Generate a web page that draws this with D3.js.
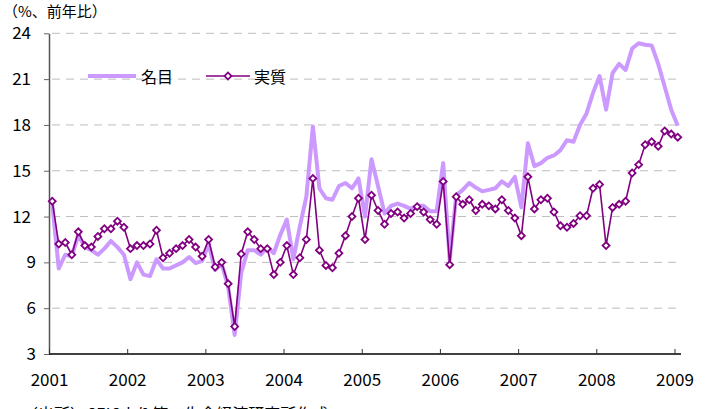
<!DOCTYPE html>
<html>
<head>
  <meta charset="UTF-8">
  <style>
    body { margin: 0; background: #fff; }
    text { font-family: "Noto Sans CJK JP", "Liberation Sans", sans-serif; }
  </style>
</head>
<body>
<div id="chart_div"></div>
<script src="https://d3js.org/d3.v7.min.js"></script>
<script>

let width = 713, height = 409;

// monthly, Jan 2001 .. Jan 2009
const years = [2001, 2002, 2003, 2004, 2005, 2006, 2007, 2008, 2009];
const yTicks = [3, 6, 9, 12, 15, 18, 21, 24];

const nominal = [
  12.8, 8.6, 9.5, 9.4, 10.8, 10.0, 9.8, 9.5, 9.9, 10.4, 10.0, 9.5,
  7.9, 9.0, 8.2, 8.1, 9.2, 8.6, 8.6, 8.8, 9.0, 9.35, 8.95, 9.1,
  10.2, 8.5, 8.9, 7.4, 4.25, 8.3, 9.8, 9.8, 9.5, 10.0, 9.6, 10.8,
  11.8, 9.2, 11.35, 13.3, 17.9, 13.85, 13.2, 13.1, 14.0, 14.2, 13.85, 14.5,
  12.0, 15.75, 14.0, 12.2, 12.7, 12.85, 12.7, 12.5, 12.7, 12.7, 12.35, 12.35,
  15.5, 9.15, 13.4, 13.75, 14.2, 13.9, 13.65, 13.75, 13.85, 14.3, 14.0, 14.6,
  12.6, 16.8, 15.3, 15.5, 15.85, 16.0, 16.35, 17.0, 16.9, 18.0, 18.75, 20.1,
  21.2, 19.0, 21.4, 22.0, 21.6, 23.0, 23.35, 23.25, 23.2, 22.0, 20.5, 19.0,
  17.95
];

const real = [
  13.0, 10.2, 10.3, 9.5, 11.0, 10.1, 10.0, 10.7, 11.2, 11.2, 11.7, 11.3,
  9.9, 10.1, 10.1, 10.2, 11.1, 9.3, 9.6, 9.9, 10.1, 10.5, 10.0, 9.4,
  10.5, 8.7, 9.0, 7.6, 4.8, 9.55, 11.0, 10.5, 9.9, 9.9, 8.2, 9.0,
  10.1, 8.2, 9.3, 10.5, 14.5, 9.8, 8.8, 8.65, 9.6, 10.75, 12.0, 13.2,
  10.5, 13.4, 12.4, 11.5, 12.2, 12.3, 11.9, 12.2, 12.65, 12.3, 11.8, 11.5,
  14.3, 8.85, 13.3, 12.8, 13.1, 12.4, 12.8, 12.7, 12.5, 13.1, 12.4, 11.9,
  10.75, 14.6, 12.5, 13.1, 13.2, 12.3, 11.4, 11.3, 11.55, 12.05, 12.05, 13.85,
  14.1, 10.1, 12.6, 12.8, 13.0, 14.85, 15.4, 16.7, 16.9, 16.6, 17.6, 17.4,
  17.2
];

const seriesNames = ["名目", "実質"];
const nominalColor = "#cc99ff", realColor = "#800080";

let svg = d3.select("#chart_div")
    .append("svg")
    .attr("width", width)
    .attr("height", height);

const plotLeft = 49, plotRight = 681, plotTop = 33.3, plotBottom = 354;

let x = d3.scaleBand()
    .domain(d3.range(nominal.length))
    .range([plotLeft, plotRight]);
let cx = i => x(i) + x.bandwidth() / 2;

let y = d3.scaleLinear().domain([3, 24]).range([plotBottom, plotTop]);

// gridlines
svg.append("g")
  .selectAll("line")
  .data(yTicks.filter(d => d > 3))
  .enter().append("line")
    .attr("x1", plotLeft + 3).attr("x2", plotRight)
    .attr("y1", d => y(d)).attr("y2", d => y(d))
    .attr("stroke", "#bdbdbd")
    .attr("stroke-width", 1)
    .attr("stroke-dasharray", "8,6");

// y axis
let yAxis = svg.append("g")
    .attr("transform", "translate(" + plotLeft + ",0)")
    .call(d3.axisLeft(y).tickValues(yTicks).tickSizeInner(5).tickSizeOuter(0).tickPadding(0));
yAxis.select(".domain").attr("stroke", "#555").attr("stroke-width", 1.5);
yAxis.selectAll(".tick line").attr("stroke", "#666");
yAxis.selectAll(".tick text")
    .attr("x", d => d < 10 ? -13 : -18)
    .style("font-size", "17px")
    .attr("fill", "#000");

// x axis (year boundaries)
let xYear = d3.scaleLinear().domain([2001, 2009]).range([x(0), x(96)]);
let xAxis = svg.append("g")
    .attr("transform", "translate(0," + plotBottom + ")")
    .call(d3.axisBottom(xYear).tickValues(years).tickFormat(d3.format("d"))
      .tickSizeInner(-5).tickSizeOuter(0).tickPadding(20));
xAxis.select(".domain").attr("d", "M" + plotLeft + ",0H" + plotRight).attr("stroke", "#000").attr("stroke-width", 1.5);
xAxis.selectAll(".tick line").attr("stroke", "#333");
xAxis.selectAll(".tick text").style("font-size", "17px").attr("fill", "#000");

// nominal line
svg.append("path")
    .datum(nominal)
    .attr("fill", "none")
    .attr("stroke", nominalColor)
    .attr("stroke-width", 4)
    .attr("stroke-linejoin", "round")
    .attr("d", d3.line().x((d, i) => cx(i)).y(d => y(d)));

// real line with diamonds
svg.append("path")
    .datum(real)
    .attr("fill", "none")
    .attr("stroke", realColor)
    .attr("stroke-width", 1.6)
    .attr("d", d3.line().x((d, i) => cx(i)).y(d => y(d)));

let diamond = d3.symbol().type(d3.symbolSquare).size(24)();
svg.append("g")
  .selectAll("path")
  .data(real)
  .enter().append("path")
    .attr("d", diamond)
    .attr("transform", (d, i) => "translate(" + cx(i) + "," + y(d) + ") rotate(45)")
    .attr("fill", "#fff")
    .attr("stroke", realColor)
    .attr("stroke-width", 1.8);

// legend
let legend = svg.append("g");
legend.append("line")
    .attr("x1", 88).attr("x2", 136).attr("y1", 76).attr("y2", 76)
    .attr("stroke", nominalColor).attr("stroke-width", 4);
legend.append("text")
    .attr("x", 141).attr("y", 83)
    .style("font-size", "16px")
    .text(seriesNames[0]);
legend.append("line")
    .attr("x1", 206).attr("x2", 250).attr("y1", 76).attr("y2", 76)
    .attr("stroke", realColor).attr("stroke-width", 1.6);
legend.append("path")
    .attr("d", diamond)
    .attr("transform", "translate(228,76) rotate(45)")
    .attr("fill", "#fff").attr("stroke", realColor).attr("stroke-width", 1.8);
legend.append("text")
    .attr("x", 254).attr("y", 83)
    .style("font-size", "16px")
    .text(seriesNames[1]);

// unit label
svg.append("text")
    .attr("x", 3).attr("y", 17)
    .style("font-size", "15px")
    .text("（%、前年比）");

// source note (cut off at the bottom)
svg.append("text")
    .attr("x", 22).attr("y", 420)
    .style("font-size", "16px")
    .text("（出所）CEICより第一生命経済研究所作成");

</script>
</body>
</html>
